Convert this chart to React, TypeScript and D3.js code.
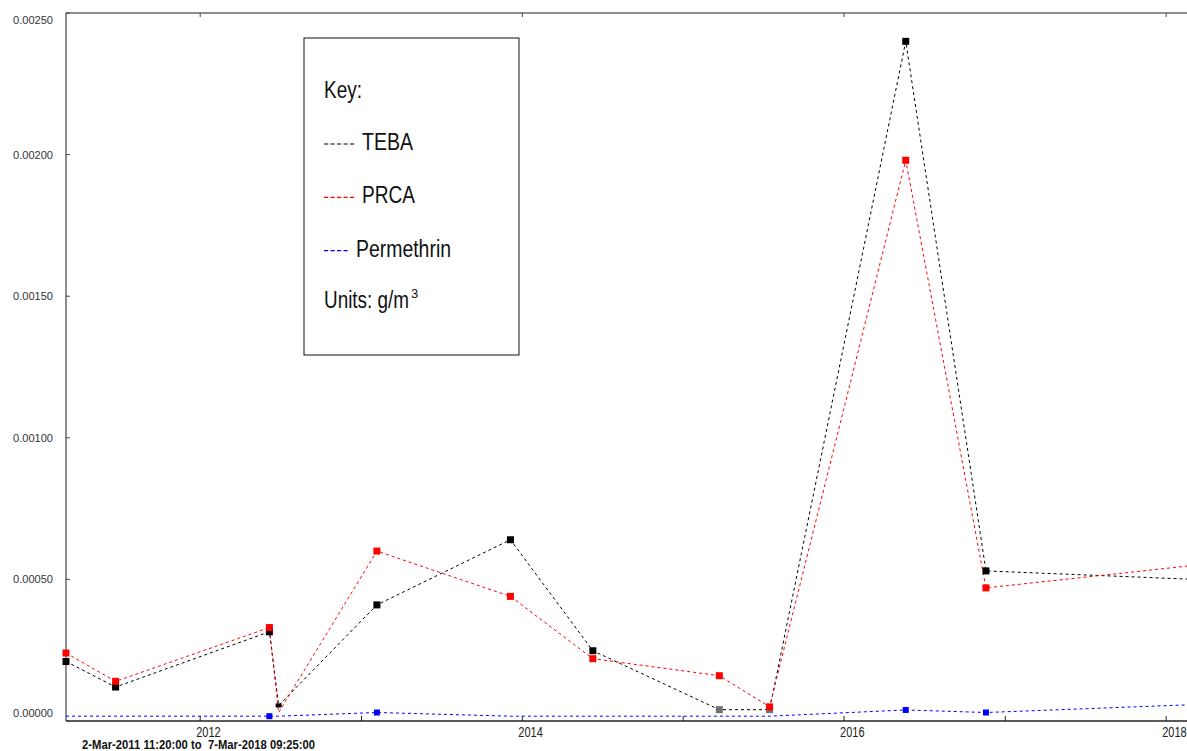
import React from "react";
import * as d3 from "d3";

// ---- data ----
const rangeStart = "2011-03-02T11:20:00";
const rangeEnd = "2018-03-07T09:25:00";
const sampleDates = [
  "2011-03-02T11:20:00", "2011-06-23", "2012-06-06", "2012-06-27", "2013-02-05", "2013-12-05",
  "2014-06-10", "2015-03-24", "2015-07-16", "2016-05-20", "2016-11-18", "2018-03-07T09:25:00",
];
const teba = [0.00021, 0.00012, 0.000315, 0.000055, 0.00041, 0.00064, 0.000248, 0.00004, 0.00004, 0.0024, 0.00053, 0.0005];
const tebaBelowLimit = [false, false, false, false, false, false, false, true, true, false, false, false];
const prca = [0.00024, 0.00014, 0.00033, 0.00003, 0.0006, 0.00044, 0.00022, 0.00016, 0.00005, 0.00198, 0.00047, 0.00055];
const prcaMarked = [true, true, true, false, true, true, true, true, true, true, true, true];
const permethrin = [0.000017, 0.000017, 0.000017, 0.000017, 0.00003, 0.000017, 0.000017, 0.000017, 0.000017, 0.000039, 0.00003, 0.000058];
const permethrinMarked = [false, false, true, false, true, false, false, false, false, true, true, true];
const yTicks = [0, 0.0005, 0.001, 0.0015, 0.002, 0.0025];
const legendItems = ["TEBA", "PRCA", "Permethrin"];
const legendColors = ["#000000", "#ff0000", "#0000ff"];
const rangeLabel = "2-Mar-2011 11:20:00 to  7-Mar-2018 09:25:00";

const W = 1187;
const H = 751;
const LEFT = 66;
const TOP = 13;
const BOTTOM = 721;
const NARROW = "'Liberation Sans Narrow', 'Arial Narrow', 'Liberation Sans', Arial, sans-serif";
const SANS = "'Liberation Sans', Arial, sans-serif";

export default function App() {
  const dates = sampleDates.map((d) => new Date(d));
  const x = d3.scaleTime().domain([new Date(rangeStart), new Date(rangeEnd)]).range([LEFT, 1195]);
  const y = d3.scaleLinear().domain([0, 0.0025]).range([BOTTOM, TOP]);
  const years = d3.timeYear.range(new Date("2012-01-01T00:00:00"), new Date(rangeEnd));

  const line = d3
    .line<number>()
    .x((_, i) => x(dates[i]))
    .y((d) => y(d));

  const series = [
    { vals: teba, color: "#000000", marked: teba.map(() => true) },
    { vals: prca, color: "#ff0000", marked: prcaMarked },
    { vals: permethrin, color: "#0000ff", marked: permethrinMarked },
  ];

  return (
    <svg
      width={W}
      height={H}
      style={{ position: "absolute", left: 0, top: 0, background: "#fff", overflow: "hidden" }}
    >
      <rect x={0} y={0} width={W} height={H} fill="#fff" />
      {/* frame */}
      <line x1={LEFT} x2={W} y1={TOP} y2={TOP} stroke="#6a6a6a" strokeWidth={1.3} />
      <line x1={LEFT} x2={LEFT} y1={TOP} y2={BOTTOM} stroke="#444" strokeWidth={1.2} />
      <line x1={LEFT} x2={W} y1={BOTTOM} y2={BOTTOM} stroke="#222" strokeWidth={1.3} />

      {/* y axis */}
      {yTicks.map((t) => (
        <g key={t}>
          <line x1={LEFT} x2={LEFT + 4} y1={y(t)} y2={y(t)} stroke="#444" />
          <text
            x={53}
            y={Math.min(Math.max(y(t), 20), 713) + 4}
            textAnchor="end"
            fontFamily={SANS}
            fontSize={11.5}
            fill="#333340"
            textLength={40}
            lengthAdjust="spacingAndGlyphs"
          >
            {t.toFixed(5)}
          </text>
        </g>
      ))}

      {/* x axis */}
      {years.map((d) => {
        const yr = d.getFullYear();
        const px = x(d);
        return (
          <g key={yr}>
            <line x1={px} x2={px} y1={BOTTOM} y2={BOTTOM - 5} stroke="#222" />
            {yr % 2 === 0 && (
              <>
                <line x1={px} x2={px} y1={TOP} y2={TOP + 4} stroke="#444" />
                <text
                  x={px - 4}
                  y={737}
                  fontFamily={NARROW}
                  fontSize={14}
                  fill="#222"
                  textLength={24.5}
                  lengthAdjust="spacingAndGlyphs"
                >
                  {yr}
                </text>
              </>
            )}
          </g>
        );
      })}
      <text
        x={82}
        y={749}
        fontFamily={SANS}
        fontWeight="bold"
        fontSize={12}
        fill="#111"
        textLength={233}
        lengthAdjust="spacingAndGlyphs"
        style={{ whiteSpace: "pre" }}
      >
        {rangeLabel}
      </text>

      {/* series lines */}
      {series.map((s, k) => (
        <path
          key={"l" + k}
          d={line(s.vals) || ""}
          fill="none"
          stroke={s.color}
          strokeWidth={1}
          strokeDasharray="3,3"
        />
      ))}
      {/* markers */}
      {series.map((s, k) =>
        s.vals.map((v, i) => {
          if (!s.marked[i]) return null;
          let size = k === 2 ? 6 : 7;
          let fill = s.color;
          if (k === 0 && tebaBelowLimit[i]) fill = "#707070";
          let h = size;
          if (k === 0 && i === 3) {
            size = 6;
            h = 4;
          }
          return (
            <rect
              key={k + "-" + i}
              x={x(dates[i]) - size / 2}
              y={y(v) - h / 2}
              width={size}
              height={h}
              fill={fill}
            />
          );
        })
      )}

      {/* legend */}
      <rect x={304} y={38} width={215} height={317} fill="#fff" stroke="#111" strokeWidth={1} />
      <text x={324} y={98} fontFamily={NARROW} fontSize={23} fill="#111" textLength={38} lengthAdjust="spacingAndGlyphs">
        Key:
      </text>
      {legendItems.map((name, i) => {
        const base = 150 + i * 53.3;
        const dashEnd = i === 2 ? 349 : 355;
        const textX = i === 2 ? 356 : 362;
        const len = [51, 53, 95][i];
        return (
          <g key={name}>
            <line
              x1={324}
              x2={dashEnd}
              y1={base - 6}
              y2={base - 6}
              stroke={legendColors[i]}
              strokeWidth={1.2}
              strokeDasharray="4.2,2.3"
            />
            <text
              x={textX}
              y={base}
              fontFamily={NARROW}
              fontSize={23}
              fill="#111"
              textLength={len}
              lengthAdjust="spacingAndGlyphs"
            >
              {name}
            </text>
          </g>
        );
      })}
      <text x={324} y={308} fontFamily={NARROW} fontSize={23} fill="#111" textLength={85} lengthAdjust="spacingAndGlyphs">
        Units: g/m
      </text>
      <text x={411} y={298} fontFamily={NARROW} fontSize={13} fill="#111">
        3
      </text>
    </svg>
  );
}
